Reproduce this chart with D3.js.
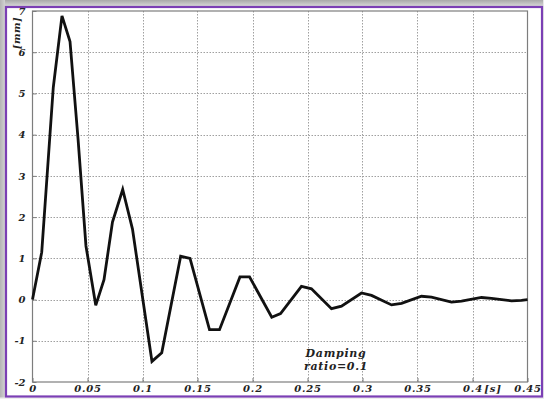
<!DOCTYPE html>
<html>
<head>
<meta charset="utf-8">
<script src="https://cdn.jsdelivr.net/npm/d3@7"></script>
<style>
  html, body { margin: 0; padding: 0; background: #fff; }
  svg { display: block; }
  .tick-label { font-family: "DejaVu Serif", serif; font-style: italic; font-weight: bold; font-size: 10px; fill: #222; }
</style>
</head>
<body>
<svg id="chart" width="544" height="399"></svg>
<script>
// Free-vibration displacement response (damping ratio 0.1)
const timeS = [0, 0.0084, 0.0189, 0.0268, 0.0341, 0.0414, 0.0486, 0.0575, 0.065, 0.0727,
  0.082, 0.0909, 0.1086, 0.1175, 0.1347, 0.1432, 0.1609, 0.17, 0.1886, 0.1973,
  0.2175, 0.2255, 0.2445, 0.2536, 0.2718, 0.2809, 0.2991, 0.3082, 0.3264, 0.3355,
  0.3536, 0.3627, 0.3809, 0.39, 0.4082, 0.4173, 0.4355, 0.4445, 0.45];
const displacementMm = [0, 1.15, 5.15, 6.88, 6.26, 3.9, 1.3, -0.14, 0.48, 1.88,
  2.67, 1.71, -1.5, -1.29, 1.05, 1.0, -0.73, -0.73, 0.55, 0.55,
  -0.43, -0.34, 0.32, 0.26, -0.22, -0.16, 0.16, 0.1, -0.13, -0.09,
  0.08, 0.06, -0.06, -0.04, 0.05, 0.03, -0.03, -0.02, 0];
const xTicks = [0, 0.05, 0.1, 0.15, 0.2, 0.25, 0.3, 0.35, 0.4, 0.45];
const yTicks = [-2, -1, 0, 1, 2, 3, 4, 5, 6, 7];
const xTickLabels = ["0", "0.05", "0.1", "0.15", "0.2", "0.25", "0.3", "0.35", "0.4", "0.45"];
const yTickLabels = ["-2", "-1", "0", "1", "2", "3", "4", "5", "6", "7"];
const noteLines = ["Damping", "ratio=0.1"];

const svg = d3.select("#chart");
const plot = { left: 32.5, right: 527.5, top: 11, bottom: 382 };

const x = d3.scaleLinear().domain([0, 0.45]).range([plot.left, plot.right]);
const y = d3.scaleLinear().domain([-2, 7]).range([plot.bottom, plot.top]);

// dotted grid
const grid = svg.append("g").attr("stroke", "#a0a0a0").attr("stroke-width", 1)
  .attr("stroke-dasharray", "1.5,1.5");
grid.selectAll("line.v").data(xTicks.slice(1, -1)).join("line")
  .attr("x1", d => Math.round(x(d)) + 0.5).attr("x2", d => Math.round(x(d)) + 0.5)
  .attr("y1", plot.top).attr("y2", plot.bottom);
grid.selectAll("line.h").data(yTicks.slice(1, -1)).join("line")
  .attr("y1", d => Math.round(y(d)) + 0.5).attr("y2", d => Math.round(y(d)) + 0.5)
  .attr("x1", plot.left).attr("x2", plot.right);

// plot box
svg.append("rect")
  .attr("x", plot.left).attr("y", plot.top)
  .attr("width", plot.right - plot.left).attr("height", plot.bottom - plot.top)
  .attr("fill", "none").attr("stroke", "#7d7d7d").attr("stroke-width", 1.2);

// axes (labels only; ticks drawn as short inward marks)
const xAxis = d3.axisBottom(x).tickValues(xTicks)
  .tickFormat((d, i) => xTickLabels[i]).tickSize(-4).tickPadding(6);
const gx = svg.append("g").attr("transform", `translate(0,${plot.bottom})`).call(xAxis);
gx.select(".domain").remove();
gx.selectAll(".tick line").attr("stroke", "#7d7d7d");
gx.selectAll(".tick text").attr("class", "tick-label").attr("letter-spacing", "0.8")
  .attr("y", 3).attr("dy", "0.71em");

const yAxis = d3.axisLeft(y).tickValues(yTicks)
  .tickFormat((d, i) => yTickLabels[i]).tickSize(-4).tickPadding(8);
const gy = svg.append("g").attr("transform", `translate(${plot.left},0)`).call(yAxis);
gy.select(".domain").remove();
gy.selectAll(".tick line").attr("stroke", "#7d7d7d");
gy.selectAll(".tick text").attr("class", "tick-label").attr("x", -7);

// axis units
svg.append("text").attr("class", "tick-label")
  .attr("transform", "translate(20,33) rotate(-90)")
  .attr("text-anchor", "middle").attr("letter-spacing", "0.5").text("[mm]");
svg.append("text").attr("class", "tick-label")
  .attr("x", 493).attr("y", 392).attr("text-anchor", "middle")
  .attr("letter-spacing", "0.8").text("[s]");

// response curve
const line = d3.line().x((d, i) => x(timeS[i])).y(d => y(d));
svg.append("path").datum(displacementMm)
  .attr("d", line).attr("fill", "none")
  .attr("stroke", "#111").attr("stroke-width", 2.8)
  .attr("stroke-linejoin", "miter").attr("stroke-miterlimit", 4);

// annotation
svg.append("text").attr("x", 336).attr("y", 357)
  .attr("text-anchor", "middle")
  .style("font-family", "DejaVu Serif, serif").style("font-style", "italic")
  .style("font-weight", "bold").style("font-size", "11px").attr("fill", "#222")
  .attr("letter-spacing", "0.7")
  .selectAll("tspan").data(noteLines).join("tspan")
  .attr("x", 336).attr("dy", (d, i) => i === 0 ? 0 : 13).text(d => d);

// page frame: soft grey edge top/left and a purple border
const defs = svg.append("defs");
const gTop = defs.append("linearGradient").attr("id", "edgeTop").attr("x1", 0).attr("y1", 0).attr("x2", 0).attr("y2", 1);
gTop.append("stop").attr("offset", 0).attr("stop-color", "#a9a9a9");
gTop.append("stop").attr("offset", 1).attr("stop-color", "#d6d6d6");
const gLeft = defs.append("linearGradient").attr("id", "edgeLeft").attr("x1", 0).attr("y1", 0).attr("x2", 1).attr("y2", 0);
gLeft.append("stop").attr("offset", 0).attr("stop-color", "#b4b4b4");
gLeft.append("stop").attr("offset", 1).attr("stop-color", "#d2d2d2");
svg.append("rect").attr("x", 0).attr("y", 0).attr("width", 544).attr("height", 6).attr("fill", "url(#edgeTop)");
svg.append("rect").attr("x", 0).attr("y", 0).attr("width", 5).attr("height", 399).attr("fill", "url(#edgeLeft)");
svg.append("rect").attr("x", 543).attr("y", 0).attr("width", 1).attr("height", 399).attr("fill", "#e8e8e8");
svg.append("rect").attr("x", 0).attr("y", 397.5).attr("width", 544).attr("height", 1.5).attr("fill", "#eeeeee");
svg.append("rect").attr("x", 6).attr("y", 7).attr("width", 536).attr("height", 389.5)
  .attr("fill", "none").attr("stroke", "#7b3fb4").attr("stroke-width", 2.2);
</script>
</body>
</html>
